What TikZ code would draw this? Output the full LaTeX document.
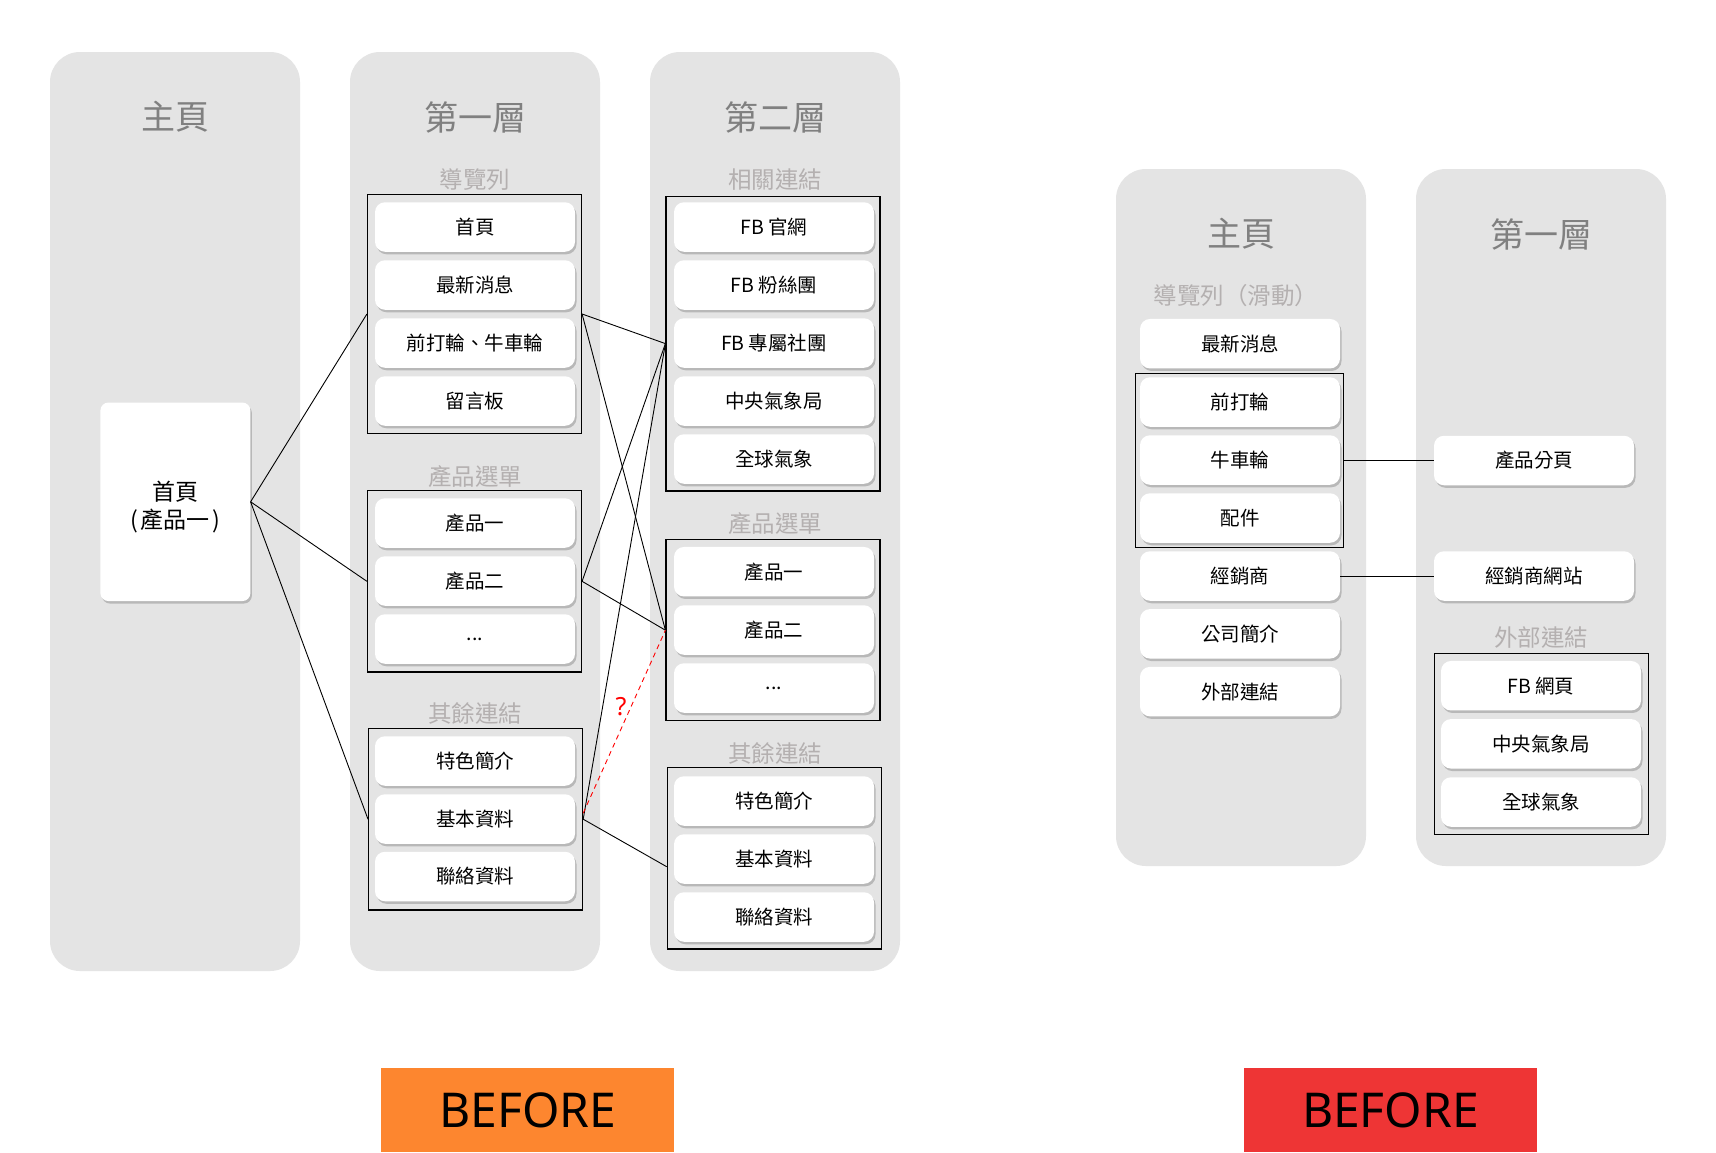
\documentclass[tikz,border=0pt]{standalone}
\usepackage{fontspec}
\setmainfont{Noto Sans CJK TC}
\newfontfamily\befont{Noto Sans}
\usetikzlibrary{shadows}
\definecolor{colbg}{HTML}{E4E4E4}
\definecolor{ttl}{HTML}{808080}
\definecolor{subc}{HTML}{B4B0B0}
\definecolor{orng}{HTML}{FD862F}
\definecolor{redb}{HTML}{EE3535}
\definecolor{qred}{HTML}{FF0000}
\tikzset{
 colbox/.style={fill=colbg, rounded corners=30pt},
 ttlnode/.style={text=ttl, font=\fontsize{34}{40}\selectfont, inner sep=0},
 subnode/.style={text=subc, font=\fontsize{23.5}{28}\selectfont, inner sep=0},
 item/.style={fill=white, rounded corners=10pt, minimum width=200pt, minimum height=49.5pt, inner sep=0,
   font=\fontsize{19.5}{23}\selectfont,
   drop shadow={shadow xshift=1.5pt, shadow yshift=-2.5pt, fill=black!28, opacity=1}},
 grp/.style={draw=black, line width=1.2pt, inner sep=0},
 link/.style={draw=black, line width=0.9pt},
 qlink/.style={draw=qred, line width=0.9pt, dash pattern=on 5pt off 4pt},
 tagbox/.style={minimum width=293pt, minimum height=84pt, inner sep=0, font=\befont\fontsize{48}{56}\selectfont}
}
\begin{document}
\begin{tikzpicture}[x=1pt,y=-1pt]
\useasboundingbox (0,0) rectangle (1716,1152);
\fill[white] (0,0) rectangle (1716,1152);
% columns
\fill[colbox] (50,52) rectangle (300,971);
\fill[colbox] (350,52) rectangle (600,971);
\fill[colbox] (650,52) rectangle (900,971);
\fill[colbox] (1116,169) rectangle (1366,866);
\fill[colbox] (1416,169) rectangle (1666,866);
% titles
\node[ttlnode] (t1) at (175,117) {主頁};
\node[ttlnode] (t2) at (475,117) {第一層};
\node[ttlnode] (t3) at (775,117) {第二層};
\node[ttlnode] (t4) at (1241,234) {主頁};
\node[ttlnode] (t5) at (1541,234) {第一層};
% subtitles
\node[subnode] (s1) at (475,180) {導覽列};
\node[subnode] (s2) at (475,476.5) {產品選單};
\node[subnode] (s3) at (475,713) {其餘連結};
\node[subnode] (s4) at (775,180) {相關連結};
\node[subnode] (s5) at (775,524) {產品選單};
\node[subnode] (s6) at (775,753) {其餘連結};
\node[subnode] (s7) at (1236,296) {導覽列（滑動）};
\node[subnode] (s8) at (1541,638) {外部連結};
% main node
\node[item, rounded corners=8pt, minimum width=150pt, minimum height=198.5pt] (main) at (175.4,501.8) {};
\node[align=center, inner sep=0, font=\fontsize{23}{28}\selectfont] (maintext) at (175.4,507.5)
  {首頁\\(\kern2.5pt 產品一\kern2.5pt)};
% column 2 items
\node[item] (a1) at (475,227) {首頁};
\node[item] (a2) at (475,285) {最新消息};
\node[item] (a3) at (475,343) {前打輪、牛車輪};
\node[item] (a4) at (475,401) {留言板};
\node[item] (b1) at (475,523) {產品一};
\node[item] (b2) at (475,581) {產品二};
\node[item] (b3) at (475,639) {\raisebox{-3pt}{...}};
\node[item] (c1) at (475,761) {特色簡介};
\node[item] (c2) at (475,819) {基本資料};
\node[item] (c3) at (475,876.5) {聯絡資料};
% column 3 items
\node[item] (d1) at (774,227) {FB 官網};
\node[item] (d2) at (774,285) {FB 粉絲團};
\node[item] (d3) at (774,343) {FB 專屬社團};
\node[item] (d4) at (774,401) {中央氣象局};
\node[item] (d5) at (774,459) {全球氣象};
\node[item] (e1) at (774,571.7) {產品一};
\node[item] (e2) at (774,630) {產品二};
\node[item] (e3) at (774,688) {\raisebox{-3pt}{...}};
\node[item] (f1) at (774,801) {特色簡介};
\node[item] (f2) at (774,859) {基本資料};
\node[item] (f3) at (774,917) {聯絡資料};
% right column A
\node[item] (r1) at (1240,343.7) {最新消息};
\node[item] (r2) at (1240,402) {前打輪};
\node[item] (r3) at (1240,460) {牛車輪};
\node[item] (r4) at (1240,518) {配件};
\node[item] (r5) at (1240,576) {經銷商};
\node[item] (r6) at (1240,633.8) {公司簡介};
\node[item] (r7) at (1240,691.6) {外部連結};
% right column B
\node[item] (p1) at (1534,460.5) {產品分頁};
\node[item] (p2) at (1534,576) {經銷商網站};
\node[item] (q1) at (1541,685.7) {FB 網頁};
\node[item] (q2) at (1541,743.8) {中央氣象局};
\node[item] (q3) at (1541,802) {全球氣象};
% groups
\node[grp, minimum width=214pt, minimum height=239pt] (g1) at (474.5,314) {};
\node[grp, minimum width=214pt, minimum height=181.4pt] (g2) at (474.5,581.3) {};
\node[grp, minimum width=214pt, minimum height=181.5pt] (g3) at (475.6,819.2) {};
\node[grp, minimum width=214pt, minimum height=294.7pt] (h1) at (773,343.6) {};
\node[grp, minimum width=214pt, minimum height=181.2pt] (h2) at (773,630.2) {};
\node[grp, minimum width=214pt, minimum height=181.3pt] (h3) at (774.3,858.4) {};
\node[grp, minimum width=208.2pt, minimum height=173.6pt] (rg) at (1239.5,460.5) {};
\node[grp, minimum width=214pt, minimum height=181.7pt] (qg) at (1541.5,744) {};
% connectors
\draw[link] (main.east) -- (g1.west);
\draw[link] (main.east) -- (g2.west);
\draw[link] (main.east) -- (g3.west);
\draw[link] (g1.east) -- (h1.west);
\draw[link] (g1.east) -- (h2.west);
\draw[link] (g2.east) -- (h1.west);
\draw[link] (g2.east) -- (h2.west);
\draw[link] (g3.east) -- (h1.west);
\draw[link] (g3.east) -- ([yshift=-8.3pt]h3.west);
\draw[qlink] ([yshift=6pt]g3.east) -- (h2.west);
\node[text=qred, font=\befont\fontsize{25}{30}\selectfont, inner sep=0] (qm) at (621,707) {?};
\draw[link] (rg.east) -- (p1.west);
\draw[link] (r5.east) -- (p2.west);
% tags
\node[tagbox, fill=orng] (tag1) at (527.7,1110) {BEFORE};
\node[tagbox, fill=redb] (tag2) at (1390.5,1110) {BEFORE};
\end{tikzpicture}
\end{document}
